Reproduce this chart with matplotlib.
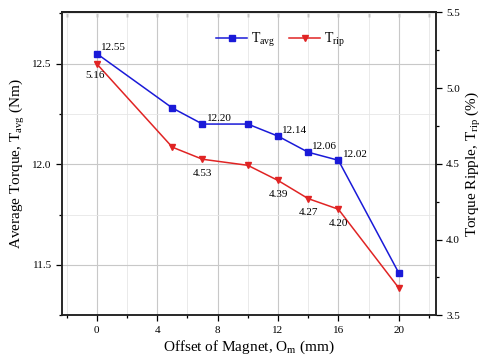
import matplotlib
matplotlib.use("Agg")
import matplotlib.pyplot as plt
from matplotlib.ticker import MultipleLocator

plt.rcParams['font.family'] = ['Liberation Serif', 'DejaVu Serif']
plt.rcParams['mathtext.fontset'] = 'custom'
plt.rcParams['mathtext.rm'] = 'Liberation Serif'
plt.rcParams['mathtext.it'] = 'Liberation Serif'

# Magnet offset (mm) and measured torque characteristics
offset = [0, 5, 7, 10, 12, 14, 16, 20]
t_avg = [12.55, 12.28, 12.20, 12.20, 12.14, 12.06, 12.02, 11.46]
t_rip = [5.16, 4.61, 4.53, 4.49, 4.39, 4.27, 4.20, 3.68]

avg_labelled = [0, 7, 12, 14, 16]
rip_labelled = [0, 7, 12, 14, 16]

blue = '#1a1ad8'
red = '#e02424'

fig = plt.figure(figsize=(4.81, 3.64), dpi=100)
ax = fig.add_axes([0.129, 0.134, 0.777, 0.832])
ax2 = ax.twinx()

ax.set_xlim(-2.3, 22.45)
ax.set_ylim(11.25, 12.755)
ax2.set_ylim(3.5, 5.5)

ax.xaxis.set_major_locator(MultipleLocator(4))
ax.xaxis.set_minor_locator(MultipleLocator(2))
ax.yaxis.set_major_locator(MultipleLocator(0.5))
ax.yaxis.set_minor_locator(MultipleLocator(0.25))
ax2.yaxis.set_major_locator(MultipleLocator(0.5))
ax2.yaxis.set_minor_locator(MultipleLocator(0.25))

ax.grid(which='major', color='#c8c8c8', lw=0.8)
ax.grid(which='minor', color='#e6e6e6', lw=0.6)
ax.set_axisbelow(True)

l1, = ax.plot(offset, t_avg, color=blue, marker='s', ms=4, lw=1.1, label=r'T$_{\mathrm{avg}}$')
l2, = ax2.plot(offset, t_rip, color=red, marker='v', ms=5, lw=1.1, label=r'T$_{\mathrm{rip}}$')

for x, y in zip(offset, t_avg):
    if x in avg_labelled:
        ax.annotate(f'{y:.2f}', (x, y), xytext=(3, 1), textcoords='offset points',
                    fontsize=8, ha='left', va='bottom')
for x, y in zip(offset, t_rip):
    if x in rip_labelled:
        if x == 0:
            ax2.annotate(f'{y:.2f}', (x, y), xytext=(-8, -5), textcoords='offset points',
                         fontsize=8, ha='left', va='top')
        else:
            ax2.annotate(f'{y:.2f}', (x, y), xytext=(0, -7), textcoords='offset points',
                         fontsize=8, ha='center', va='top')

for a in (ax, ax2):
    for s in a.spines.values():
        s.set_linewidth(1.1)
        s.set_color('#222222')

ax.tick_params(axis='both', which='both', labelsize=8, direction='out', width=0.9)
ax.tick_params(which='major', length=4)
ax.tick_params(which='minor', length=2.5)

# inward ticks along the top edge
top = ax.secondary_xaxis('top')
top.xaxis.set_major_locator(MultipleLocator(4))
top.xaxis.set_minor_locator(MultipleLocator(2))
top.tick_params(which='both', direction='in', length=3.5, width=0.9,
                labeltop=False, color='#222222')
top.spines['top'].set_linewidth(1.1)
top.spines['top'].set_color('#222222')

ax2.tick_params(axis='y', which='both', labelsize=8, direction='out', width=0.9)
ax2.tick_params(which='major', length=4)
ax2.tick_params(which='minor', length=2.5)

ax.set_xlabel(r'Offset of Magnet, O$_{\mathrm{m}}$ (mm)', fontsize=11, labelpad=3)
ax.set_ylabel(r'Average Torque, T$_{\mathrm{avg}}$ (Nm)', fontsize=11, labelpad=4)
ax2.set_ylabel(r'Torque Ripple, T$_{\mathrm{rip}}$ (%)', fontsize=11, labelpad=3)

ax.legend(handles=[l1, l2], loc='upper center', bbox_to_anchor=(0.585, 0.98), ncol=2,
          frameon=False, fontsize=10, handlelength=2.2, columnspacing=1.0, handletextpad=0.3)

fig.savefig('out.png', dpi=100)
